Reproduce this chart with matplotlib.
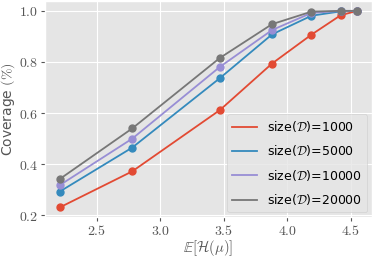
import matplotlib
matplotlib.use("Agg")
import matplotlib.pyplot as plt
from matplotlib.ticker import FuncFormatter

plt.style.use("ggplot")
plt.rcParams["mathtext.fontset"] = "cm"

# expected entropy on x, coverage per dataset size
entropy = [2.21, 2.78, 3.47, 3.88, 4.19, 4.42, 4.55]
cov_1000 = [0.231, 0.372, 0.612, 0.794, 0.907, 0.983, 1.0]
cov_5000 = [0.293, 0.465, 0.737, 0.908, 0.981, 0.998, 1.0]
cov_10000 = [0.318, 0.500, 0.781, 0.925, 0.992, 1.0, 1.0]
cov_20000 = [0.342, 0.540, 0.816, 0.948, 0.997, 1.0, 1.0]
sizes = ["1000", "5000", "10000", "20000"]
colors = ["#E24A33", "#348ABD", "#988ED5", "#777777"]

fig = plt.figure(figsize=(3.74, 2.58), dpi=100)
ax = fig.add_axes([0.12, 0.158, 0.875, 0.838])

for c, s, col in zip([cov_1000, cov_5000, cov_10000, cov_20000], sizes, colors):
    ax.plot(entropy, c, color=col, lw=1.3, label=r"size($\mathcal{D}$)=" + s)
    ax.plot(entropy, c, "o", color=col, ms=5)

fmt = FuncFormatter(lambda v, p: r"$%.1f$" % v)
ax.xaxis.set_major_formatter(fmt)
ax.yaxis.set_major_formatter(fmt)
ax.set_xticks([2.5, 3.0, 3.5, 4.0, 4.5])
ax.set_yticks([0.2, 0.4, 0.6, 0.8, 1.0])
ax.tick_params(labelsize=10, length=3, pad=2)
ax.set_xlabel(r"$\mathbb{E}[\mathcal{H}(\mu)]$", fontsize=10.5, labelpad=0)
ax.set_ylabel(r"Coverage $(\%)$", fontsize=10, labelpad=1)
ax.legend(loc="lower right", fontsize=9, handlelength=2.0, labelspacing=0.75,
          borderaxespad=0.4)

fig.savefig("out.png", dpi=100)
